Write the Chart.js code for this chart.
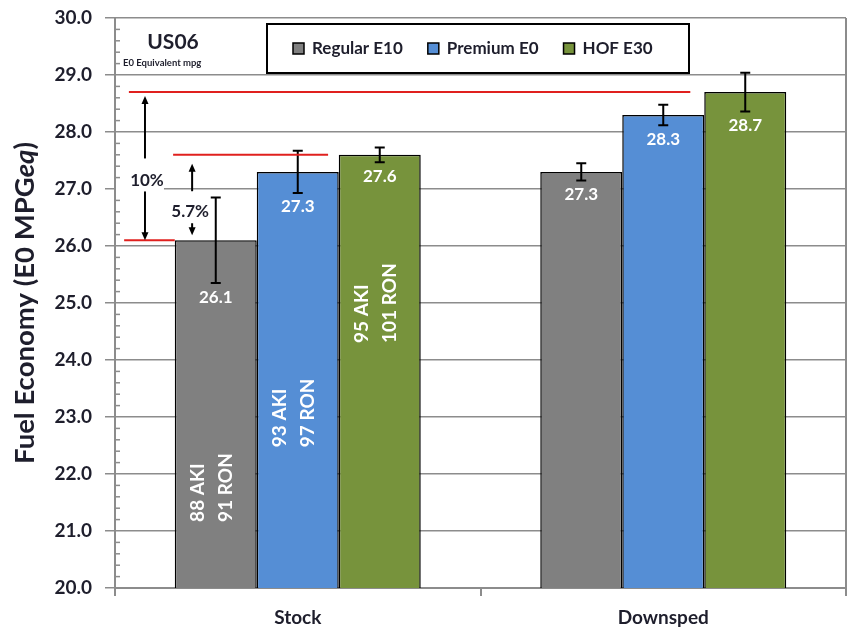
<!DOCTYPE html>
<html>
<head>
<meta charset="utf-8">
<script src="https://cdn.jsdelivr.net/npm/chart.js@4.4.1/dist/chart.umd.min.js"></script>
<style>
  html, body { margin: 0; padding: 0; background: #fff; }
  #wrap { width: 850px; height: 629px; position: relative; }
</style>
</head>
<body>
<div id="wrap"><canvas id="c" width="850" height="629"></canvas></div>
<script>
// US06 fuel economy, E0 equivalent mpg
const categories = ['Stock', 'Downsped'];
const seriesNames = ['Regular E10', 'Premium E0', 'HOF E30'];
const regularE10 = [26.1, 27.3];
const premiumE0 = [27.3, 28.3];
const hofE30 = [27.6, 28.7];
const regularErr = [0.75, 0.15];
const premiumErr = [0.37, 0.18];
const hofErr = [0.13, 0.34];
const yTicks = [20, 21, 22, 23, 24, 25, 26, 27, 28, 29, 30];
const octaneText = [['88 AKI', '91 RON'], ['93 AKI', '97 RON'], ['95 AKI', '101 RON']];
const gainText = ['10%', '5.7%'];

const FONT = 'Lato, "Open Sans", "DejaVu Sans", sans-serif';
const TEXT = '#1e1e2c';
const GRID = '#8c8c8c';
const RED = '#e0201e';
const fills = ['#808080', '#558ed5', '#77933c'];

function arrow(ctx, x, yTail, yTip) {
  const dir = yTip < yTail ? -1 : 1;
  ctx.beginPath();
  ctx.moveTo(x, yTail);
  ctx.lineTo(x, yTip - dir * 6);
  ctx.stroke();
  ctx.beginPath();
  ctx.moveTo(x, yTip);
  ctx.lineTo(x - 3.5, yTip - dir * 8);
  ctx.lineTo(x + 3.5, yTip - dir * 8);
  ctx.closePath();
  ctx.fill();
}

const annotate = {
  id: 'annotate',
  afterDatasetsDraw(chart) {
    const { ctx, chartArea: a, scales: { x, y } } = chart;
    const X = u => x.getPixelForValue(u);
    const Y = v => y.getPixelForValue(v);
    ctx.save();

    // error bars and value labels
    chart.data.datasets.forEach((ds, di) => {
      chart.getDatasetMeta(di).data.forEach((bar, i) => {
        const v = ds.data[i], e = ds.err[i];
        const top = Y(v + e), bot = Y(v - e), cx = bar.x;
        ctx.strokeStyle = '#000';
        ctx.lineWidth = 2;
        ctx.beginPath();
        ctx.moveTo(cx, top); ctx.lineTo(cx, bot);
        ctx.moveTo(cx - 5, top); ctx.lineTo(cx + 5, top);
        ctx.moveTo(cx - 5, bot); ctx.lineTo(cx + 5, bot);
        ctx.stroke();
        ctx.fillStyle = '#fff';
        ctx.font = `bold 17px ${FONT}`;
        ctx.textAlign = 'center';
        ctx.textBaseline = 'middle';
        ctx.fillText(v.toFixed(1), cx, Math.max(bar.y + 18, bot + 14));
      });
    });

    // octane ratings written up the Stock bars
    const startAt = [21.16, 22.47, 24.3];
    ctx.font = `bold 19px ${FONT}`;
    ctx.fillStyle = '#fff';
    ctx.textAlign = 'left';
    ctx.textBaseline = 'middle';
    chart.data.datasets.forEach((ds, di) => {
      const bar = chart.getDatasetMeta(di).data[0];
      ctx.save();
      ctx.translate(bar.x - 3.5, Y(startAt[di]));
      ctx.rotate(-Math.PI / 2);
      ctx.fillText(octaneText[di][0], 0, -14);
      ctx.fillText(octaneText[di][1], 0, 14);
      ctx.restore();
    });

    // red reference levels
    const gray0 = chart.getDatasetMeta(0).data[0];
    const refs = [
      { v: hofE30[1], x0: X(-0.462), x1: X(1.074) },
      { v: hofE30[0], x0: X(-0.341), x1: X(0.083) },
      { v: regularE10[0], x0: X(-0.475), x1: gray0.x - gray0.width / 2 }
    ];
    ctx.strokeStyle = RED;
    ctx.lineWidth = 2;
    refs.forEach(r => {
      ctx.beginPath();
      ctx.moveTo(r.x0, Y(r.v));
      ctx.lineTo(r.x1, Y(r.v));
      ctx.stroke();
    });

    // gain arrows
    ctx.strokeStyle = '#000';
    ctx.fillStyle = '#000';
    ctx.lineWidth = 2;
    const ax1 = X(-0.418), ly1 = Y(27.15);
    ctx.save();
    ctx.fillStyle = '#fff';
    ctx.fillRect(a.left + 1, ly1 - 11, ax1 + 19 - a.left - 1, 22);
    ctx.restore();
    arrow(ctx, ax1, ly1 - 22, Y(hofE30[1]) + 4);
    arrow(ctx, ax1, ly1 + 11, Y(regularE10[0]));
    const ax2 = X(-0.289), ly2 = Y(26.61);
    arrow(ctx, ax2, ly2 - 20, Y(hofE30[0]) + 9);
    arrow(ctx, ax2, ly2 + 12, Y(regularE10[0]) - 5);
    ctx.fillStyle = TEXT;
    ctx.font = `bold 17px ${FONT}`;
    ctx.textAlign = 'center';
    ctx.textBaseline = 'middle';
    ctx.fillText(gainText[0], ax1 + 2, ly1);
    ctx.fillText(gainText[1], ax2 - 2, ly2);

    // cycle name
    ctx.font = `bold 21px ${FONT}`;
    ctx.fillText('US06', a.left + 58, a.top + 24);
    ctx.font = `bold 9.5px ${FONT}`;
    ctx.textAlign = 'left';
    ctx.fillText('E0 Equivalent mpg', a.left + 8, a.top + 45);

    // legend
    const lx0 = a.left + 152, lx1 = a.left + 574, lyT = a.top + 6, lyB = a.top + 55;
    ctx.fillStyle = '#fff';
    ctx.fillRect(lx0, lyT, lx1 - lx0, lyB - lyT);
    ctx.strokeStyle = '#000';
    ctx.lineWidth = 2;
    ctx.strokeRect(lx0, lyT, lx1 - lx0, lyB - lyT);
    let px = lx0 + 26;
    const pyc = (lyT + lyB) / 2;
    ctx.font = `bold 17px ${FONT}`;
    ctx.textBaseline = 'middle';
    chart.data.datasets.forEach(ds => {
      ctx.fillStyle = ds.backgroundColor;
      ctx.fillRect(px, pyc - 5.5, 11, 11);
      ctx.lineWidth = 1.5;
      ctx.strokeRect(px, pyc - 5.5, 11, 11);
      ctx.fillStyle = TEXT;
      ctx.fillText(ds.label, px + 19, pyc);
      px += 19 + ctx.measureText(ds.label).width + 25;
    });

    // minor ticks on the value axis
    ctx.strokeStyle = GRID;
    ctx.lineWidth = 1.5;
    for (let k = 0; k < 50; k++) {
      if (k % 5 === 0) continue;
      const v = y.min + k * 0.2;
      ctx.beginPath();
      ctx.moveTo(a.left, Y(v));
      ctx.lineTo(a.left + 5, Y(v));
      ctx.stroke();
    }

    // right frame edge
    ctx.lineWidth = 2;
    ctx.beginPath();
    ctx.moveTo(a.right, a.top);
    ctx.lineTo(a.right, a.bottom);
    ctx.stroke();

    // value axis title with italic subscript, sized to span 322px
    const parts = [
      { t: 'Fuel Economy (E0 MPG', s: '' },
      { t: 'eq', s: 'italic ' },
      { t: ')', s: '' }
    ];
    const measure = size => parts.reduce((sum, p) => {
      ctx.font = `${p.s}bold ${size}px ${FONT}`;
      return sum + ctx.measureText(p.t).width;
    }, 0);
    const size = 25 * 322 / measure(25);
    const total = measure(size);
    ctx.save();
    ctx.translate(25, (a.top + a.bottom) / 2);
    ctx.rotate(-Math.PI / 2);
    ctx.fillStyle = TEXT;
    ctx.textAlign = 'left';
    ctx.textBaseline = 'middle';
    let tx = -total / 2;
    parts.forEach(p => {
      ctx.font = `${p.s}bold ${size}px ${FONT}`;
      ctx.fillText(p.t, tx, 0);
      tx += ctx.measureText(p.t).width;
    });
    ctx.restore();

    ctx.restore();
  }
};

const seriesData = [regularE10, premiumE0, hofE30];
const seriesErr = [regularErr, premiumErr, hofErr];

new Chart(document.getElementById('c'), {
  type: 'bar',
  data: {
    labels: categories,
    datasets: seriesNames.map((name, i) => ({
      label: name,
      data: seriesData[i],
      err: seriesErr[i],
      backgroundColor: fills[i],
      borderColor: '#000',
      borderWidth: 1.5,
      categoryPercentage: 0.673,
      barPercentage: 1
    }))
  },
  options: {
    responsive: false,
    animation: false,
    devicePixelRatio: 1,
    layout: { padding: { left: 0, top: 18, right: 4, bottom: 0 } },
    plugins: { legend: { display: false }, tooltip: { enabled: false } },
    scales: {
      x: {
        grid: { display: true, drawOnChartArea: false, drawTicks: true, tickLength: 8, color: GRID, lineWidth: 2, offset: true },
        border: { display: true, color: GRID, width: 2 },
        ticks: { font: { family: FONT, size: 19, weight: 'bold' }, color: TEXT, padding: 10 },
        afterFit(s) { s.height = 41; s.paddingLeft = 0; s.paddingRight = 0; }
      },
      y: {
        min: 20,
        max: 30,
        afterBuildTicks(s) { s.ticks = yTicks.map(v => ({ value: v })); },
        grid: { color: GRID, lineWidth: 1.5, tickLength: 10, drawTicks: true },
        border: { display: true, color: GRID, width: 2 },
        ticks: { font: { family: FONT, size: 19, weight: 'bold' }, color: TEXT, padding: 13, callback: v => Number(v).toFixed(1) },
        afterFit(s) { s.width = 115; s.paddingTop = 0; s.paddingBottom = 0; }
      }
    }
  },
  plugins: [annotate]
});
</script>
</body>
</html>
